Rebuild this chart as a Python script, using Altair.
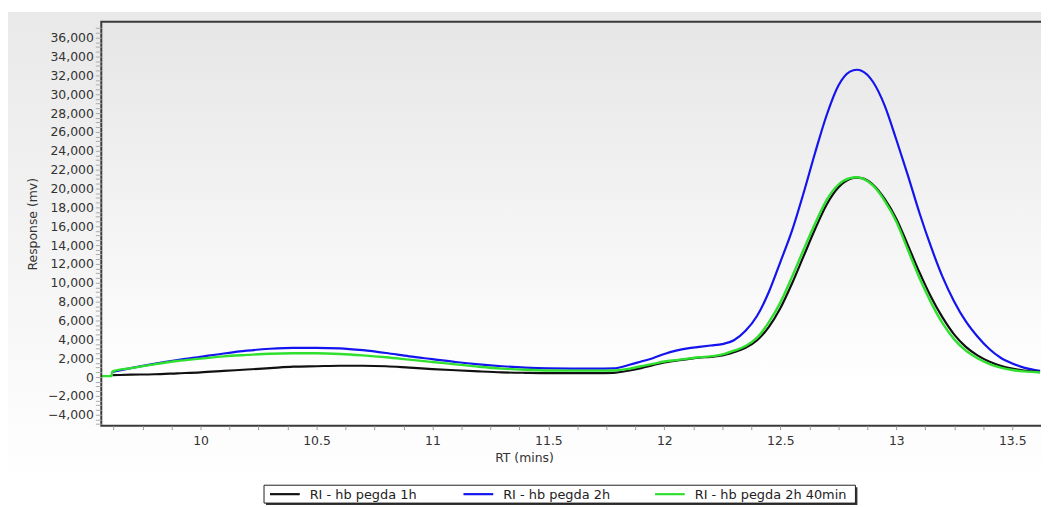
import altair as alt
import pandas as pd

# ---- data ----
rt = [9.62, 9.7, 9.8, 9.9, 10.0, 10.1, 10.2, 10.3, 10.4, 10.5, 10.6, 10.7, 10.8, 10.9,
      11.0, 11.1, 11.2, 11.3, 11.4, 11.5, 11.6, 11.7, 11.78, 11.85, 11.9, 11.95, 12.0,
      12.05, 12.1, 12.15, 12.2, 12.25, 12.3, 12.35, 12.4, 12.45, 12.5, 12.55, 12.6,
      12.65, 12.7, 12.75, 12.8, 12.83, 12.85, 12.9, 12.95, 13.0, 13.05, 13.1, 13.15,
      13.2, 13.25, 13.3, 13.35, 13.4, 13.45, 13.5, 13.55, 13.62]

resp_1h = [200, 250, 300, 400, 500, 650, 800, 950, 1100, 1150, 1200, 1200, 1150, 1000,
           850, 720, 600, 500, 450, 420, 420, 420, 450, 700, 950, 1250, 1550,
           1750, 1900, 2050, 2150, 2300, 2650, 3100, 3900, 5300, 7300, 9900, 12800,
           15700, 18300, 20100, 21000, 21150, 21100, 20400, 18900, 16800, 14000, 11100, 8500,
           6300, 4500, 3200, 2300, 1650, 1200, 900, 700, 550]

resp_2h = [550, 950, 1400, 1800, 2150, 2500, 2800, 3000, 3100, 3100, 3050, 2850, 2550, 2200,
           1900, 1600, 1350, 1150, 1000, 920, 900, 900, 920, 1300, 1650, 2000, 2450,
           2800, 3050, 3200, 3350, 3500, 3900, 4900, 6500, 9000, 12200, 15500, 19500,
           23800, 27800, 30900, 32400, 32600, 32500, 31300, 28800, 25200, 21400, 17400, 13800,
           10600, 8000, 5900, 4300, 3000, 2050, 1450, 1000, 650]

resp_2h40 = [600, 950, 1350, 1700, 1950, 2200, 2350, 2480, 2520, 2520, 2450, 2300, 2100, 1850,
             1600, 1350, 1100, 900, 780, 700, 680, 680, 700, 900, 1150, 1400, 1650,
             1800, 1950, 2100, 2200, 2400, 2800, 3300, 4200, 5800, 7900, 10600, 13500,
             16300, 18800, 20400, 21100, 21200, 21100, 20300, 18700, 16500, 13500, 10500, 7900,
             5700, 4000, 2800, 2000, 1400, 1000, 750, 600, 480]

# short baseline stub drawn by the 2h 40min trace before its start
lead_rt = [9.575, 9.615]
lead_resp = [100, 100]

names = ["RI - hb pegda 1h", "RI - hb pegda 2h", "RI - hb pegda 2h 40min"]
colors = ["#111111", "#1414ee", "#2fe02f"]

x_ticks = [9.625 + 0.125 * i for i in range(32)]
y_ticks = list(range(-5000, 37001, 500))

W, H = 947, 407
FONT = "DejaVu Sans"
FS = 12.5

df_1h = pd.DataFrame({"rt": rt, "resp": resp_1h, "series": names[0]})
df_2h = pd.DataFrame({"rt": rt, "resp": resp_2h, "series": names[1]})
df_40 = pd.DataFrame({"rt": lead_rt + rt, "resp": lead_resp + resp_2h40, "series": names[2]})

x_enc = alt.X("rt:Q", scale=alt.Scale(domain=[9.572, 13.624], nice=False, zero=False),
              axis=alt.Axis(values=x_ticks,
                            labelExpr="datum.value % 0.5 == 0 ? format(datum.value, '~g') : ''",
                            title="RT (mins)", titleX=426, titlePadding=5,
                            labelFont=FONT, labelFontSize=FS, labelColor="#333",
                            titleFont=FONT, titleFontSize=FS, titleColor="#333",
                            titleFontWeight="normal", tickSize=4, tickColor="#999",
                            labelPadding=5, domain=False, grid=False, zindex=1))
y_enc = alt.Y("resp:Q", scale=alt.Scale(domain=[-5158, 37684], nice=False, zero=False),
              axis=alt.Axis(values=y_ticks,
                            labelExpr="datum.value % 2000 == 0 ? format(datum.value, ',') : ''",
                            title="Response (mv)", titlePadding=8,
                            labelFont=FONT, labelFontSize=FS, labelColor="#333",
                            titleFont=FONT, titleFontSize=FS, titleColor="#333",
                            titleFontWeight="normal", tickSize=6, tickColor="#aaa",
                            labelPadding=2, domain=False, grid=False, zindex=1))
color_enc = alt.Color("series:N", scale=alt.Scale(domain=names, range=colors), legend=None)

outer_grad = alt.LinearGradient(gradient="linear", x1=0, x2=0, y1=0, y2=1,
                                stops=[alt.GradientStop(offset=0, color="#e9e9e9"),
                                       alt.GradientStop(offset=1, color="#ffffff")])
inner_grad = alt.LinearGradient(gradient="linear", x1=0, x2=0, y1=0, y2=1,
                                stops=[alt.GradientStop(offset=0, color="#e6e6e6"),
                                       alt.GradientStop(offset=0.9, color="#ffffff"),
                                       alt.GradientStop(offset=1, color="#ffffff")])

one = alt.Data(values=[{}])
bg_outer = alt.Chart(one).mark_rect(fill=outer_grad).encode(
    x=alt.value(-94), x2=alt.value(W + 10), y=alt.value(-10), y2=alt.value(H + 60))
bg_inner = alt.Chart(one).mark_rect(fill=inner_grad).encode(
    x=alt.value(0), x2=alt.value(W + 10), y=alt.value(0), y2=alt.value(H))
frame = alt.Chart(one).mark_rect(filled=False, stroke="#3a3a3a", strokeWidth=2).encode(
    x=alt.value(0), x2=alt.value(W + 10), y=alt.value(0), y2=alt.value(H))


def trace(df, width):
    return alt.Chart(df).mark_line(strokeWidth=width, clip=True, interpolate="monotone").encode(
        x=x_enc, y=y_enc, color=color_enc)


# ---- legend box (bottom, horizontal) ----
LX0, LX1, LY0, LY1 = 164, 760, 467, 485
leg_shadow = alt.Chart(one).mark_rect(fill="#333333").encode(
    x=alt.value(LX0 + 2), x2=alt.value(LX1 + 2), y=alt.value(LY0 + 2), y2=alt.value(LY1 + 2))
leg_box = alt.Chart(one).mark_rect(fill="white", stroke="#222222", strokeWidth=1).encode(
    x=alt.value(LX0), x2=alt.value(LX1), y=alt.value(LY0), y2=alt.value(LY1))

entry_x = [170, 365, 558]
leg_layers = [leg_shadow, leg_box]
for nm, col, ex in zip(names, colors, entry_x):
    leg_layers.append(alt.Chart(one).mark_rule(color=col, strokeWidth=2.2).encode(
        x=alt.value(ex), x2=alt.value(ex + 30), y=alt.value((LY0 + LY1) / 2)))
    leg_layers.append(alt.Chart(one).mark_text(
        text=nm, align="left", baseline="middle", font=FONT, fontSize=13, color="#222").encode(
        x=alt.value(ex + 40), y=alt.value((LY0 + LY1) / 2 + 0.5)))

chart = alt.layer(
    bg_outer, bg_inner,
    trace(df_2h, 2.2), trace(df_1h, 2.2), trace(df_40, 2.4),
    frame, *leg_layers
).properties(
    width=W, height=H,
    padding={"left": 94, "top": 12, "right": 0, "bottom": 78},
    autosize=alt.AutoSizeParams(type="none"),
    background="white"
).configure_view(stroke=None)

chart.save("out.html", embed_options={"renderer": "svg", "actions": False})
